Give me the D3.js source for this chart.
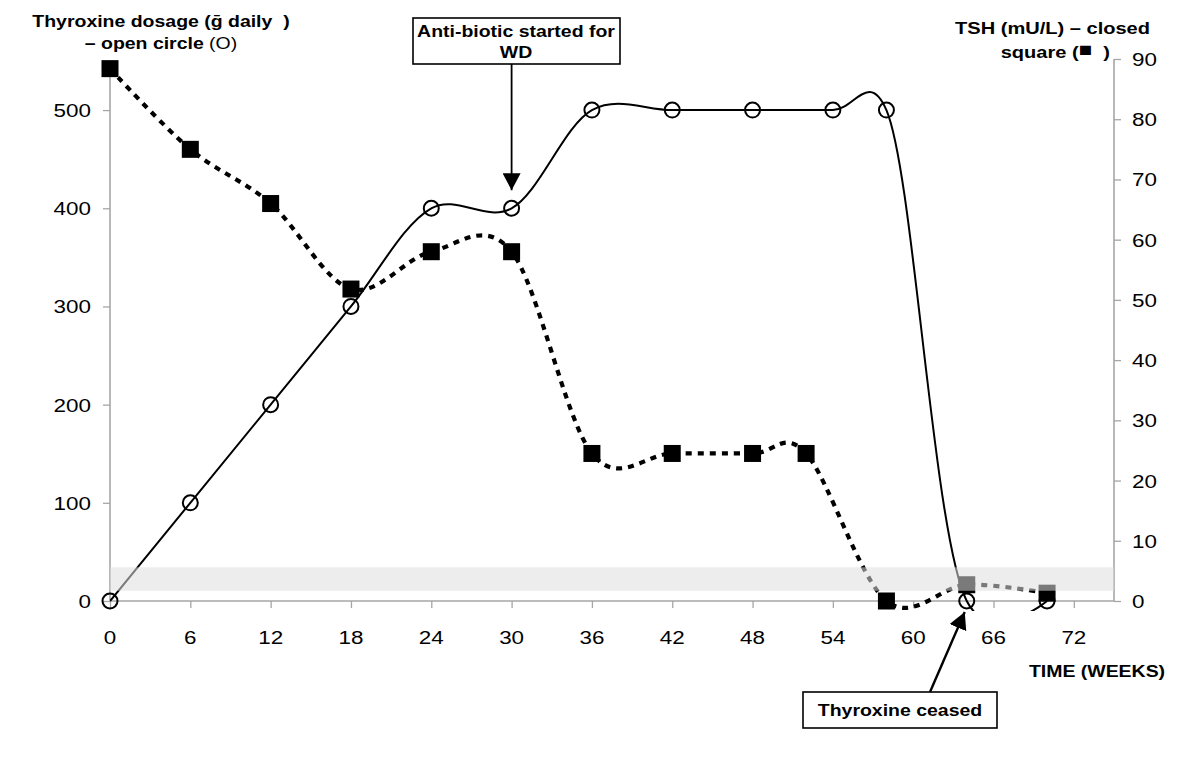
<!DOCTYPE html>
<html><head><meta charset="utf-8">
<script src="https://cdn.jsdelivr.net/npm/d3@7"></script>
<style>
body{margin:0;background:#fff}
svg{display:block;font-family:"Liberation Sans",Arial,sans-serif}
text{white-space:pre}
</style>
</head><body>
<svg id="chart" width="1200" height="757"></svg>
<script>
// ---- data ----
const doseWeeks = [0, 6, 12, 18, 24, 30, 36, 42, 48, 54, 58, 64, 70];
const doseValues = [0, 100, 200, 300, 400, 400, 500, 500, 500, 500, 500, 0, 0];
const tshWeeks = [0, 6, 12, 18, 24, 30, 36, 42, 48, 52, 58, 64, 70];
const tshValues = [88.4, 75, 66, 51.8, 58, 58, 24.5, 24.5, 24.5, 24.5, 0, 2.7, 1.3];
const xTicks = [0, 6, 12, 18, 24, 30, 36, 42, 48, 54, 60, 66, 72];
const doseTicks = [0, 100, 200, 300, 400, 500];
const tshTicks = [0, 10, 20, 30, 40, 50, 60, 70, 80, 90];
const normalRange = [1.7, 5.6];
const antibioticWeek = 30, antibioticDose = 400;
const ceasedWeek = 64, ceasedDose = 0;

const svg = d3.select("#chart");
const SX = 1.18;
const axisColor = "#a6a6a6";

const x = d3.scaleLinear().domain([0, 75]).range([110, 1114]);
const yL = d3.scaleLinear().domain([0, 550]).range([601, 61]);
const yR = d3.scaleLinear().domain([0, 90]).range([601, 59]);

function label(parent, px, py, str, size, weight, anchor) {
  return parent.append("text")
    .attr("transform", `translate(${px},${py}) scale(${SX},1)`)
    .attr("text-anchor", anchor || "start")
    .style("font-size", size + "px")
    .style("font-weight", weight || "normal")
    .attr("fill", "#000")
    .text(str);
}

const defs = svg.append("defs");
defs.append("clipPath").attr("id", "plotclip")
  .append("rect").attr("x", x(0)).attr("y", 40).attr("width", x(75) - x(0)).attr("height", 611 - 40);
defs.append("marker").attr("id", "arrow")
  .attr("viewBox", "0 0 10 10").attr("refX", 10).attr("refY", 5)
  .attr("markerWidth", 17).attr("markerHeight", 18)
  .attr("markerUnits", "userSpaceOnUse").attr("orient", "auto")
  .attr("preserveAspectRatio", "none")
  .append("path").attr("d", "M0,0 L10,5 L0,10 Z").attr("fill", "#000");

// axes
const gx = svg.append("g").attr("transform", `translate(0,${yL(0)})`)
  .call(d3.axisBottom(x).tickValues(xTicks).tickSize(7).tickFormat(""));
const gl = svg.append("g").attr("transform", `translate(${x(0)},0)`)
  .call(d3.axisLeft(yL).tickValues(doseTicks).tickSize(7).tickFormat(""));
const gr = svg.append("g").attr("transform", `translate(${x(75)},0)`)
  .call(d3.axisRight(yR).tickValues(tshTicks).tickSize(7).tickFormat(""));
[gx, gl, gr].forEach(g => {
  g.selectAll("path.domain").attr("stroke", axisColor).attr("stroke-width", 1.6);
  g.selectAll(".tick line").attr("stroke", axisColor).attr("stroke-width", 1.3);
});
gx.selectAll("path.domain").attr("d", `M${x(0)},0H${x(75)}`);
gl.selectAll("path.domain").attr("d", `M0,${yL(550)}V${yL(0)}`);
gr.selectAll("path.domain").attr("d", `M0,${yR(90)}V${yR(0)}`);

// tick labels
xTicks.forEach(t => label(svg, x(t), 644, String(t), 19, "normal", "middle"));
doseTicks.forEach(t => label(svg, 91, yL(t) + 7, String(t), 19, "normal", "end"));
tshTicks.forEach(t => label(svg, 1132, yR(t) + 7, String(t), 19, "normal", "start"));

// lines
const plot = svg.append("g").attr("clip-path", "url(#plotclip)");
const doseLine = d3.line().x((d, i) => x(doseWeeks[i])).y(d => yL(d)).curve(d3.curveCatmullRom.alpha(0.2));
const tshLine = d3.line().x((d, i) => x(tshWeeks[i])).y(d => yR(d)).curve(d3.curveCatmullRom.alpha(0));

plot.append("path").attr("d", doseLine(doseValues))
  .attr("fill", "none").attr("stroke", "#000").attr("stroke-width", 2);
plot.append("path").attr("d", tshLine(tshValues))
  .attr("fill", "none").attr("stroke", "#000").attr("stroke-width", 4.2)
  .attr("stroke-dasharray", "6,6");

// markers
svg.append("g").selectAll("circle").data(doseValues).join("circle")
  .attr("cx", (d, i) => x(doseWeeks[i])).attr("cy", d => yL(d)).attr("r", 7.5)
  .attr("fill", "none").attr("stroke", "#000").attr("stroke-width", 2);
svg.append("g").selectAll("rect").data(tshValues).join("rect")
  .attr("x", (d, i) => x(tshWeeks[i]) - 8.5).attr("y", d => yR(d) - 8.5)
  .attr("width", 17).attr("height", 17).attr("fill", "#000");

// normal range band (drawn over the series, semi-transparent)
svg.append("rect")
  .attr("x", x(0)).attr("width", x(75) - x(0))
  .attr("y", yR(normalRange[1])).attr("height", yR(normalRange[0]) - yR(normalRange[1]))
  .attr("fill", "rgb(222,222,222)").attr("fill-opacity", 0.55);

// titles
label(svg, 161, 27, "Thyroxine dosage (\u1E21 daily  )", 16.5, "bold", "middle");
const t2 = label(svg, 161, 49, "", 16.5, "bold", "middle");
t2.append("tspan").text("\u2013 open circle ");
t2.append("tspan").style("font-weight", "normal").text("(O)");

label(svg, 1150, 34, "TSH (mU/L) \u2013 closed", 17, "bold", "end");
const r2 = label(svg, 1110, 58, "", 17, "bold", "end");
r2.append("tspan").text("square (");
r2.append("tspan").style("font-size", "19px").attr("dy", -2).text("\u25A0");
r2.append("tspan").attr("dy", 2).text("  )");

label(svg, 1097, 677, "TIME (WEEKS)", 16.5, "bold", "middle");

// annotation: antibiotic
const ax = x(antibioticWeek);
svg.append("rect").attr("x", 413).attr("y", 18).attr("width", 207).attr("height", 46)
  .attr("fill", "#fff").attr("stroke", "#000").attr("stroke-width", 1.6);
label(svg, 516, 37, "Anti-biotic started for", 16.5, "bold", "middle");
label(svg, 516, 58, "WD", 16.5, "bold", "middle");
svg.append("line").attr("x1", ax).attr("y1", 64).attr("x2", ax).attr("y2", yL(antibioticDose) - 18)
  .attr("stroke", "#000").attr("stroke-width", 1.8).attr("marker-end", "url(#arrow)");

// annotation: thyroxine ceased
svg.append("rect").attr("x", 803).attr("y", 692).attr("width", 194).attr("height", 36)
  .attr("fill", "#fff").attr("stroke", "#000").attr("stroke-width", 1.6);
label(svg, 900, 716, "Thyroxine ceased", 16.5, "bold", "middle");
svg.append("line").attr("x1", 930).attr("y1", 692).attr("x2", x(ceasedWeek) - 2).attr("y2", yL(ceasedDose) + 11)
  .attr("stroke", "#000").attr("stroke-width", 2.4).attr("marker-end", "url(#arrow)");
</script>
</body></html>
